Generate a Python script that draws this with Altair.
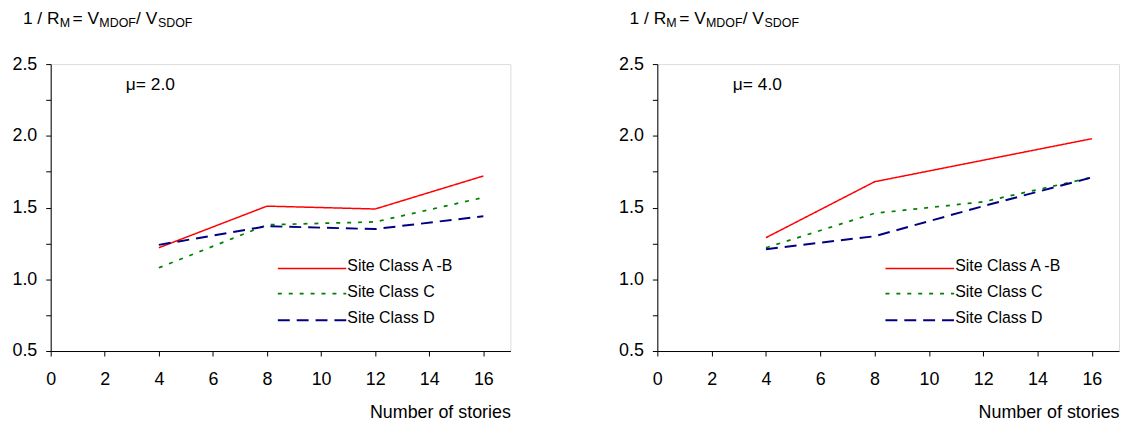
import altair as alt
import pandas as pd

# ---- data ----
stories = [4, 8, 12, 16]
series_names = ["Site Class A -B", "Site Class C", "Site Class D"]

mu2_ab = [1.22, 1.51, 1.49, 1.72]
mu2_c = [1.08, 1.38, 1.40, 1.57]
mu2_d = [1.24, 1.37, 1.35, 1.44]

mu4_ab = [1.29, 1.68, 1.83, 1.98]
mu4_c = [1.22, 1.46, 1.54, 1.71]
mu4_d = [1.21, 1.30, 1.51, 1.71]

panel_labels = ["μ= 2.0", "μ= 4.0"]
x_ticks = [0, 2, 4, 6, 8, 10, 12, 14, 16]
y_ticks = [0.5, 0.75, 1.0, 1.25, 1.5, 1.75, 2.0, 2.25, 2.5]

colors = ["#ff0000", "#008000", "#000080"]
dashes = [[1, 0], [4, 7], [12, 7]]
widths = [1.5, 2.0, 2.0]

FONT = "Liberation Sans"


def long_df(ab, c, d):
    rows = []
    for name, vals in zip(series_names, [ab, c, d]):
        for s, v in zip(stories, vals):
            rows.append({"series": name, "stories": s, "value": v})
    return pd.DataFrame(rows)


def title_piece(text, px, py, size):
    return alt.Chart(pd.DataFrame({"k": [0]})).mark_text(
        text=text, align="left", baseline="top", fontSize=size,
        font=FONT, color="black"
    ).encode(x=alt.value(px), y=alt.value(py))


def panel(ab, c, d, label, width, height, title_top):
    df = long_df(ab, c, d)
    xs = alt.Scale(domain=[0, 17], nice=False, zero=False)
    ys = alt.Scale(domain=[0.5, 2.5], nice=False, zero=False)
    color = alt.Color("series:N", scale=alt.Scale(domain=series_names, range=colors), legend=None)
    dash = alt.StrokeDash("series:N", scale=alt.Scale(domain=series_names, range=dashes), legend=None)
    sw = alt.StrokeWidth("series:N", scale=alt.Scale(domain=series_names, range=widths), legend=None)

    xaxis = alt.Axis(values=x_ticks, format="d", grid=False, tickSize=5, labelPadding=15,
                     labelFontSize=18, labelColor="black", labelFont=FONT, labelFlush=False,
                     labelOverlap=False, domainColor="black", tickColor="black",
                     title="Number of stories", titleFontSize=18, titleFont=FONT,
                     titleFontWeight="normal", titleColor="black", titleAnchor="end",
                     titlePadding=15)
    yaxis = alt.Axis(values=y_ticks,
                     labelExpr="round(datum.value*4) % 2 == 0 ? format(datum.value, '.1f') : ''",
                     grid=False, tickSize=5, labelPadding=9, labelFontSize=18,
                     labelColor="black", labelFont=FONT, labelFlush=False, labelOverlap=False,
                     domainColor="black", tickColor="black", title=None)

    lines = alt.Chart(df).mark_line().encode(
        x=alt.X("stories:Q", scale=xs, axis=xaxis),
        y=alt.Y("value:Q", scale=ys, axis=yaxis),
        color=color, strokeDash=dash, strokeWidth=sw,
    )

    leg = pd.DataFrame({
        "series": series_names,
        "x1": [8.4] * 3,
        "x2": [10.93] * 3,
        "yl": [1.075, 0.90, 0.715],
        "tx": [10.97] * 3,
        "ty": [1.09, 0.91, 0.727],
    })
    rules = alt.Chart(leg).mark_rule().encode(
        x=alt.X("x1:Q", scale=xs, axis=xaxis), x2="x2:Q",
        y=alt.Y("yl:Q", scale=ys, axis=yaxis),
        color=color, strokeDash=dash, strokeWidth=sw,
    )
    texts = alt.Chart(leg).mark_text(align="left", baseline="middle", fontSize=16,
                                      font=FONT, color="black").encode(
        x=alt.X("tx:Q", scale=xs, axis=xaxis),
        y=alt.Y("ty:Q", scale=ys, axis=yaxis),
        text="series:N",
    )
    mu_df = pd.DataFrame({"label": [label], "mx": [2.78], "my": [2.355]})
    mu = alt.Chart(mu_df).mark_text(
        align="left", baseline="middle", fontSize=17.5, font=FONT, color="black"
    ).encode(x=alt.X("mx:Q", scale=xs, axis=xaxis),
             y=alt.Y("my:Q", scale=ys, axis=yaxis), text="label:N")

    main_y = title_top
    sub_y = title_top + 7
    tparts = [
        title_piece("1 / R", -28, main_y, 17.5),
        title_piece("M", 9, sub_y, 12.5),
        title_piece("= V", 22, main_y, 17.5),
        title_piece("MDOF", 49, sub_y, 12.5),
        title_piece("/ V", 86, main_y, 17.5),
        title_piece("SDOF", 108, sub_y, 12.5),
    ]
    return alt.layer(lines, rules, texts, mu, *tparts).properties(width=width, height=height)


left = panel(mu2_ab, mu2_c, mu2_d, panel_labels[0], 463, 289, -54)
right = panel(mu4_ab, mu4_c, mu4_d, panel_labels[1], 465, 289, -54)

chart = alt.hconcat(left, right, spacing=107).configure_view(
    stroke="#777777", strokeWidth=1
).configure(background="white", font=FONT).properties(
    padding={"left": 3, "top": 0, "right": 0, "bottom": 0}
)

chart.save("out.html", embed_options={"renderer": "svg", "actions": False})
